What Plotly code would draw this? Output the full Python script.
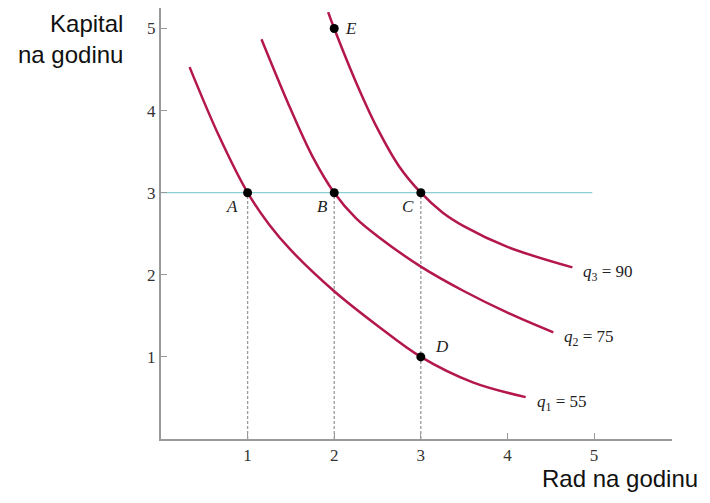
import plotly.graph_objects as go

# Izokvante (ocitano sa slike)
q1_x = [0.33, 0.67, 1.0, 1.25, 1.5, 2.0, 2.5, 3.0, 3.6, 4.21]
q1_y = [4.53, 3.69, 3.0, 2.61, 2.30, 1.80, 1.38, 1.0, 0.69, 0.51]

q2_x = [1.16, 1.5, 1.75, 2.0, 2.25, 2.5, 3.0, 3.5, 4.0, 4.53]
q2_y = [4.87, 4.01, 3.44, 3.0, 2.69, 2.47, 2.10, 1.80, 1.54, 1.30]

q3_x = [1.93, 2.0, 2.25, 2.5, 2.75, 3.0, 3.25, 3.5, 4.0, 4.75]
q3_y = [5.20, 5.0, 4.35, 3.78, 3.32, 3.0, 2.76, 2.59, 2.34, 2.09]

q_labels = ["<i>q</i><sub>1</sub> = 55", "<i>q</i><sub>2</sub> = 75", "<i>q</i><sub>3</sub> = 90"]

# Tacke A..E
pt_names = ["A", "B", "C", "D", "E"]
pt_x = [1, 2, 3, 3, 2]
pt_y = [3, 3, 3, 1, 5]

capital_level = 3
line_end = 4.98

crimson = "#b3174b"
serif = "Liberation Serif, Times New Roman, serif"
sans = "Liberation Sans, Arial, sans-serif"

fig = go.Figure()

# horizontalna linija K = 3
fig.add_trace(go.Scatter(x=[0, line_end], y=[capital_level, capital_level], mode="lines",
                         line=dict(color="#8ccfd2", width=1.2), hoverinfo="skip"))

# isprekidane vertikale
for x, y in zip(pt_x[:3], pt_y[:3]):
    fig.add_trace(go.Scatter(x=[x, x], y=[0, y], mode="lines",
                             line=dict(color="#9a9a9a", width=1.3, dash="3px,2px"),
                             hoverinfo="skip"))

for xs, ys in [(q1_x, q1_y), (q2_x, q2_y), (q3_x, q3_y)]:
    fig.add_trace(go.Scatter(x=xs, y=ys, mode="lines",
                             line=dict(color=crimson, width=2.5, shape="spline", smoothing=1.0)))

fig.add_trace(go.Scatter(x=pt_x, y=pt_y, mode="markers",
                         marker=dict(color="black", size=9)))

# oznake tacaka
offsets = {"A": (-16, -14), "B": (-12, -14), "C": (-13, -14), "D": (21, 10), "E": (17, 0)}
for n, x, y in zip(pt_names, pt_x, pt_y):
    dx, dy = offsets[n]
    fig.add_annotation(x=x, y=y, text=f"<i>{n}</i>", showarrow=False, xshift=dx, yshift=dy,
                       font=dict(family=serif, size=17, color="#222"))

for lab, xs, ys in zip(q_labels, [q1_x, q2_x, q3_x], [q1_y, q2_y, q3_y]):
    fig.add_annotation(x=xs[-1], y=ys[-1], text=lab, showarrow=False, xanchor="left",
                       xshift=9, yshift=-6, font=dict(family=serif, size=17, color="#222"))

# naslovi osa
fig.add_annotation(xref="paper", yref="paper", x=-0.07, y=1.0, xanchor="right", yanchor="top",
                   text="Kapital<br>na godinu", showarrow=False, align="right",
                   font=dict(family=sans, size=24, color="#111"))
fig.add_annotation(xref="paper", yref="paper", x=1.055, y=0, xanchor="right", yanchor="top",
                   text="Rad na godinu", showarrow=False,
                   font=dict(family=sans, size=24, color="#111"), yshift=-24)

axis_common = dict(showgrid=False, zeroline=False, showline=True, linecolor="#9a9a9a",
                   linewidth=2, ticks="inside", ticklen=6, tickcolor="#9a9a9a",
                   tickfont=dict(family=serif, size=17, color="#333"))

fig.update_layout(
    width=702, height=495,
    margin=dict(l=153, r=38, t=0, b=64),
    plot_bgcolor="white", paper_bgcolor="white",
    showlegend=False,
    xaxis=dict(range=[0, 5.9], tickvals=[1, 2, 3, 4, 5], **axis_common),
    yaxis=dict(range=[0, 5.25], tickvals=[1, 2, 3, 4, 5], **axis_common),
)

fig.write_html("out.html")
